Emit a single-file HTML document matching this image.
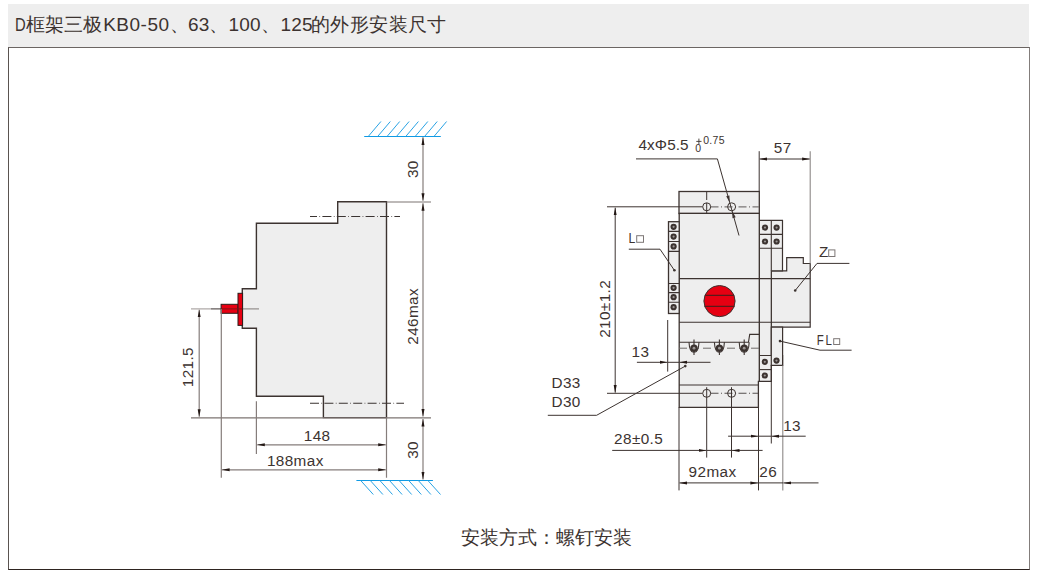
<!DOCTYPE html>
<html><head><meta charset="utf-8">
<style>
html,body{margin:0;padding:0;background:#fff;}
body{width:1037px;height:575px;position:relative;overflow:hidden;font-family:"Liberation Sans",sans-serif;color:#3c3330;}
#hdr{position:absolute;left:8px;top:4px;width:1021px;height:43px;background:#eeeeee;}
#ttl{position:absolute;left:0;top:14px;font-size:19px;line-height:22px;white-space:nowrap;color:#3c3330;}
#ttl span{position:absolute;top:0;}
#box{position:absolute;left:8px;top:47px;width:1020px;height:521px;border:1px solid #3c3330;border-top-color:#6b6562;border-left-color:#5a5350;border-right-color:#837d7b;border-bottom-color:#2e2420;}
#cap{position:absolute;left:461px;top:525.5px;font-size:19px;line-height:24px;white-space:nowrap;color:#3c3330;}
svg{position:absolute;left:0;top:0;}
</style></head><body>
<div id="hdr"></div>
<div id="ttl"><span style="left:15px;transform:scaleX(0.78);transform-origin:0 0">D</span><span style="left:26px">框架三极</span><span style="left:103.2px;letter-spacing:0.5px">KB0-50、</span><span style="left:188.1px">63、</span><span style="left:228.4px;letter-spacing:0.3px">100、</span><span style="left:280.4px;letter-spacing:0.3px">125</span><span style="left:311px;letter-spacing:0.4px">的外形安装尺寸</span></div>
<div id="box"></div>
<div id="cap">安装方式：螺钉安装</div>
<svg width="1037" height="575" viewBox="0 0 1037 575">
<defs>
<marker id="ae" viewBox="0 0 8 4" refX="7.6" refY="2" markerWidth="8" markerHeight="4" markerUnits="userSpaceOnUse" orient="auto"><path d="M0,0.5 Q4,1.2 7.6,2 Q4,2.8 0,3.5 Z" fill="#231815"/></marker>
<marker id="as" viewBox="0 0 8 4" refX="0.4" refY="2" markerWidth="8" markerHeight="4" markerUnits="userSpaceOnUse" orient="auto"><path d="M8,0.5 Q4,1.2 0.4,2 Q4,2.8 8,3.5 Z" fill="#231815"/></marker>
</defs>
<g fill="none" stroke="#3c3330" stroke-width="1">
<!-- LEFT DRAWING -->
<path d="M337.7,201.8 H386.5 V417.6 H323.4 V396.3 H256.4 V328.3 H242.3 V288.7 H256.4 V223.2 H337.7 Z" fill="#eeeeee" stroke-width="1.4"/>
<path d="M310,216.5 H400" stroke-dasharray="9,2.4,0.7,2.3" stroke-dashoffset="2" stroke="#3a3331" stroke-width="1.1"/>
<path d="M310,403.3 H404" stroke-dasharray="9,2.4,0.7,2.3" stroke="#3a3331" stroke-width="1.1"/>
<path d="M386.5,202 H431 M191,417.8 H431" stroke="#7d7573" stroke-width="1.2"/>
<path d="M191,308.9 H211" stroke="#a39d9b" stroke-width="1.1"/>
<path d="M211,308.9 H221" stroke="#4a4240" stroke-width="1.1"/>
<path d="M242,308.9 H259" stroke="#8a8482" stroke-width="1.1"/>
<rect x="221.1" y="304.3" width="17" height="9" fill="#e60012" stroke="#2b1d1b" stroke-width="1"/>
<rect x="238" y="293.3" width="4.6" height="32.1" fill="#e60012" stroke="#2b1d1b" stroke-width="1"/>
<path d="M221.5,308.9 H242.2" stroke="#7a1518" stroke-width="1"/>
<g stroke="#857d7b" stroke-width="1.2">
<path d="M423,137.3 V200.8" marker-start="url(#as)" marker-end="url(#ae)"/>
<path d="M423,203.2 V416.6" marker-start="url(#as)" marker-end="url(#ae)"/>
<path d="M423,419 V479.4" marker-start="url(#as)" marker-end="url(#ae)"/>
<path d="M199.2,309.8 V416.8" marker-start="url(#as)" marker-end="url(#ae)"/>
<path d="M221.3,309 V477.8 M256.4,401.3 V454 M386.5,417.6 V477.8"/>
<path d="M257.2,444.8 H385.8" marker-start="url(#as)" marker-end="url(#ae)"/>
<path d="M222,469.8 H385.8" marker-start="url(#as)" marker-end="url(#ae)"/>
</g>
</g>
<g stroke="#2aa3e4" stroke-width="1" fill="none">
<path d="M364.2,136.5 H440.8" stroke="#0f9ae4" stroke-width="1.1"/>
<path d="M368.4,136.3 l12.5,-14.8 M377.8,136.3 l12.5,-14.8 M387.2,136.3 l12.5,-14.8 M396.6,136.3 l12.5,-14.8 M405.9,136.3 l12.5,-14.8 M415.3,136.3 l12.5,-14.8 M424.7,136.3 l12.5,-14.8 M434.1,136.3 l12.5,-14.8"/>
<path d="M356.4,480.5 H432.9" stroke="#0f9ae4" stroke-width="1.1"/>
<path d="M360.5,480.3 l12.8,14.2 M370.1,480.3 l12.8,14.2 M379.7,480.3 l12.8,14.2 M389.3,480.3 l12.8,14.2 M398.9,480.3 l12.8,14.2 M408.5,480.3 l12.8,14.2 M418.1,480.3 l12.8,14.2 M427.7,480.3 l12.8,14.2"/>
</g>
<g font-family="'Liberation Sans', sans-serif" font-size="15.3" letter-spacing="0.4" fill="#3c3330">
<text transform="translate(418.1,178.1) rotate(-90)">30</text>
<text transform="translate(418,344.75) rotate(-90)">246max</text>
<text transform="translate(418,458.8) rotate(-90)">30</text>
<text transform="translate(193.2,387.25) rotate(-90)">121.5</text>
<text x="303.8" y="441">148</text>
<text x="266.9" y="466">188max</text>
</g>

<!-- RIGHT DRAWING -->
<g fill="none" stroke="#3c3330" stroke-width="1">
<!-- Z block -->
<path d="M771.3,270.8 H786.7 V257.7 H803.3 V263.5 H810.2 V327.1 H771.3 Z" fill="#eeeeee" stroke-width="1.2"/>
<!-- right terminal upper block -->
<path d="M759.3,220.3 H782.5 V270.8 H771.3 V355.5 H759.3 Z" fill="#eeeeee" stroke-width="1.2"/>
<path d="M771.3,220.3 V270.8 M759.3,234.4 H782.5 M759.3,248.3 H782.5" stroke-width="1.1"/>
<!-- lower right terminal -->
<path d="M759.3,355.5 H782.6 V365.4 H771.3 V381.4 H759.3 Z" fill="#eeeeee" stroke-width="1.2"/>
<path d="M771.3,327.1 H782.6 V365.4 H771.3 Z" fill="#eeeeee" stroke-width="1.2"/>
<path d="M759.3,369.6 H771.3" stroke-width="1.1"/>
<!-- top block -->
<rect x="679" y="191.5" width="80.3" height="22" fill="#eeeeee" stroke-width="1.3"/>
<!-- main body -->
<path d="M679.2,213.4 H759.3 V381.4 H758.4 V407.3 H679.2 Z" fill="#eeeeee" stroke-width="1.3"/>
<!-- left terminal strip -->
<rect x="668.5" y="221.7" width="10.7" height="91.8" fill="#eeeeee" stroke-width="1.3"/>
<path d="M668.5,231.4 H679.2 M668.5,241.5 H679.2 M668.5,251.4 H679.2 M668.5,283.5 H679.2 M668.5,292.6 H679.2 M668.5,302.2 H679.2" stroke-width="1.1"/>
<!-- horizontal body lines -->
<path d="M679.2,278.6 H810.2 M679.2,322.3 H810.2 M679.2,385 H758.5" stroke-width="1.1"/>
<path d="M679.2,342.2 H748.5 L749.7,334.4 H759.3" stroke-width="1.1"/>
<!-- center lines -->
<path d="M607,206.8 H702.5 M607,393.3 H702.5" />
<path d="M710.5,206.8 H759" stroke-dasharray="8,2.5,1,2.5" stroke="#7a7675" stroke-width="1.2"/>
<path d="M710.5,393.3 H759" stroke-dasharray="8,2.5,1,2.5" stroke="#55504f" stroke-width="1.1"/>
<path d="M679,348.2 H759" stroke-dasharray="8,4" stroke="#6e6a69"/>
<circle cx="706.7" cy="206.8" r="4" stroke-width="1"/>
<circle cx="731.6" cy="206.8" r="4" stroke-width="1"/>
<circle cx="706.7" cy="393.3" r="4" stroke-width="1"/>
<circle cx="731.6" cy="393.3" r="4" stroke-width="1"/>
<path d="M706.7,192 V200 M706.7,203 V213 M706.7,387.2 V457.6 M731.5,387.2 V457.6"/>
<!-- bottom terminal screws -->
<g stroke-width="1.1">
<path d="M689,342.2 Q689.5,352.5 694,352.5 Q698.5,352.5 699,342.2 M694,339.5 V355"/>
<path d="M714.4,342.2 Q714.9,352.5 719.4,352.5 Q723.9,352.5 724.4,342.2 M719.4,339.5 V355"/>
<path d="M739.2,342.2 Q739.7,352.5 744.2,352.5 Q748.7,352.5 749.2,342.2 M744.2,339.5 V355"/>
</g>
<g fill="#3c3330" stroke="none">
<circle cx="694" cy="348.2" r="3.7"/><circle cx="719.4" cy="348.2" r="3.7"/><circle cx="744.2" cy="348.2" r="3.7"/>
</g>
<g fill="#9a9695" stroke="none">
<circle cx="694" cy="348.2" r="1.4"/><circle cx="719.4" cy="348.2" r="1.4"/><circle cx="744.2" cy="348.2" r="1.4"/>
</g>
<!-- terminal screws -->
<g fill="#3c3330" stroke="none">
<circle cx="673.6" cy="226.8" r="3.1"/><circle cx="673.6" cy="236.6" r="3.1"/><circle cx="673.6" cy="246.4" r="3.1"/>
<circle cx="673.6" cy="287.8" r="3.1"/><circle cx="673.6" cy="297.2" r="3.1"/><circle cx="673.6" cy="307.2" r="3.1"/>
<circle cx="765" cy="227.6" r="3.1"/><circle cx="776.6" cy="227.6" r="3.1"/><circle cx="765" cy="241.5" r="3.1"/><circle cx="776.6" cy="241.5" r="3.1"/>
<circle cx="764.8" cy="361.8" r="3.1"/><circle cx="764.8" cy="375.5" r="3.1"/><circle cx="776.5" cy="360.6" r="3.1"/>
</g>
<g fill="#9a9695" stroke="none">
<circle cx="673.6" cy="226.8" r="1.1"/><circle cx="673.6" cy="236.6" r="1.1"/><circle cx="673.6" cy="246.4" r="1.1"/>
<circle cx="673.6" cy="287.8" r="1.1"/><circle cx="673.6" cy="297.2" r="1.1"/><circle cx="673.6" cy="307.2" r="1.1"/>
<circle cx="765" cy="227.6" r="1.1"/><circle cx="776.6" cy="227.6" r="1.1"/><circle cx="765" cy="241.5" r="1.1"/><circle cx="776.6" cy="241.5" r="1.1"/>
<circle cx="764.8" cy="361.8" r="1.1"/><circle cx="764.8" cy="375.5" r="1.1"/><circle cx="776.5" cy="360.6" r="1.1"/>
</g>
<!-- red knob -->
<circle cx="719.5" cy="301.1" r="15.6" fill="#e60012" stroke="#3c3330" stroke-width="1"/>
<path d="M705,295.3 H734 M704.6,306.3 H734.4" stroke="#5a1a1a" stroke-width="1.3"/>
<!-- extension lines -->
<path d="M759.2,151.2 V191.5" stroke-width="1"/>
<path d="M810.2,151.2 V263.5" stroke="#8d8887" stroke-width="1.1"/>
<path d="M679,407.3 V490.4 M758.5,381.4 V490.4 M771.3,365.4 V443.5"/>
<path d="M782.8,365.4 V490.4" stroke="#8d8887" stroke-width="1.1"/>
<path d="M667.7,320 V371.6"/>
<!-- dimension lines -->
<path d="M759.7,159 H809.7" marker-start="url(#as)" marker-end="url(#ae)"/>
<path d="M615.2,207.7 V392.7" marker-start="url(#as)" marker-end="url(#ae)"/>
<path d="M636.9,362.3 H667.2" marker-end="url(#ae)"/>
<path d="M679.7,362.3 H710.5" marker-start="url(#as)"/>
<path d="M667.7,362.3 H679.2"/>
<path d="M612.2,450.4 H706.1" marker-end="url(#ae)"/>
<path d="M731.9,450.4 H762.6" marker-start="url(#as)"/>
<path d="M728.1,436.2 H758.1" marker-end="url(#ae)"/>
<path d="M771.8,436.2 H805.7" marker-start="url(#as)"/>
<path d="M679.5,482.9 H758" marker-start="url(#as)" marker-end="url(#ae)"/>
<path d="M706.6,450.4 H731.4 M758.6,436.2 H771.3"/>
<path d="M758.6,482.9 H783.3"/>
<path d="M783.6,482.9 H818.5" marker-start="url(#as)"/>
<!-- leaders -->
<path d="M636,158.9 H717.4 L739,235.5" stroke-width="1"/>
<path d="M628.8,249.2 H660 L674.4,270.3"/>
<path d="M849.4,263.4 H817 L795.2,290.5"/>
<path d="M851.6,350.2 H820 L780,341.1"/>
<path d="M547.8,415.3 H596.6 L685.3,366.1"/>
</g>
<g fill="#3c3330" stroke="none">
<circle cx="674.4" cy="270.3" r="1.3"/><circle cx="795.2" cy="290.5" r="1.3"/><circle cx="780" cy="341.1" r="1.3"/><circle cx="685.3" cy="366.1" r="1.3"/>
<path d="M729.7,202.6 L729.4,195.4 L726.2,196.3 Z M732.2,211.0 L735.7,217.3 L732.5,218.2 Z"/>
</g>
<g font-family="'Liberation Sans', sans-serif" font-size="15.3" letter-spacing="0.4" fill="#3c3330">
<text x="638.5" y="149.8" letter-spacing="0.1">4xΦ5.5</text>
<text x="773.85" y="153">57</text>
<text transform="translate(628.4,242.5) scale(0.8,1)">L</text>
<text x="818.9" y="256.8">Z</text>
<text transform="translate(816.8,344.8) scale(0.75,1)" letter-spacing="2.1">FL</text>
<text x="631.55" y="356.9">13</text>
<text x="551.5" y="388.2">D33</text>
<text x="551.5" y="406.7">D30</text>
<text x="614.1" y="443.9">28±0.5</text>
<text x="783.2" y="431.4">13</text>
<text x="688.6" y="476.9">92max</text>
<text x="759.25" y="476.9">26</text>
<text transform="translate(609.8,337.85) rotate(-90)">210±1.2</text>
</g>
<g font-family="'Liberation Sans', sans-serif" font-size="10.5" fill="#3c3330">
<text x="695.3" y="152.2">0</text>
<text x="703.2" y="144.1" letter-spacing="0.3">0.75</text>
</g>
<g fill="none" stroke="#3c3330" stroke-width="0.9">
<path d="M696.3,141.4 H701.5 M698.9,138.6 V144.2"/>
</g>
<g fill="none" stroke="#7d7776" stroke-width="1">
<rect x="636.7" y="235.7" width="6.8" height="6.6"/>
<rect x="828.7" y="249.9" width="6.2" height="6.6"/>
<rect x="833.7" y="338.7" width="6" height="5.8"/>
</g>
</svg>
</body></html>
